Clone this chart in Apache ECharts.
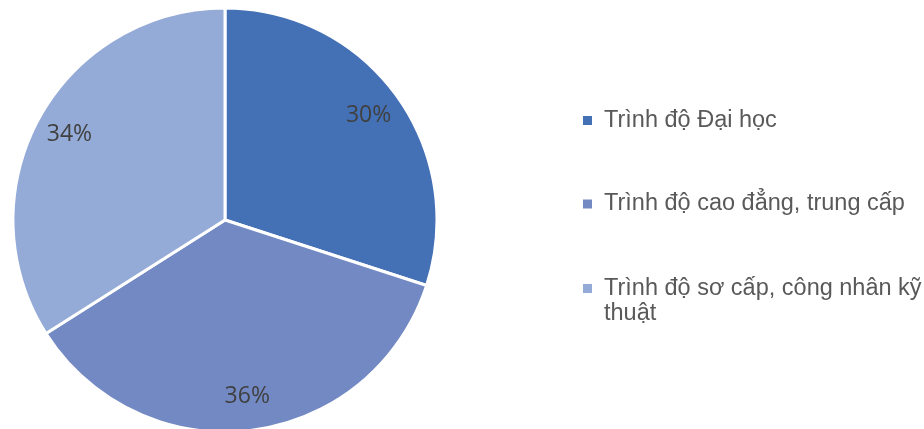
<!DOCTYPE html>
<html>
<head>
<meta charset="utf-8">
<script src="https://cdn.jsdelivr.net/npm/echarts@6/dist/echarts.min.js"></script>
<style>
html,body{margin:0;padding:0;background:#fff;}
#c{width:924px;height:429px;}
</style>
</head>
<body>
<div id="c"></div>
<script>
const categories = ['Trình độ Đại học', 'Trình độ cao đẳng, trung cấp', 'Trình độ sơ cấp, công nhân kỹ thuật'];
const values = [30, 36, 34];
const colors = ['#4470B6', '#7389C3', '#94AAD7'];
const legendLines = [['Trình độ Đại học'], ['Trình độ cao đẳng, trung cấp'], ['Trình độ sơ cấp, công nhân kỹ', 'thuật']];

const chart = echarts.init(document.getElementById('c'));
const data = categories.map((n, i) => ({ name: n, value: values[i], itemStyle: { color: colors[i] } }));
const legendText = {
  color: '#595959', fontSize: 23.5, fontFamily: 'Liberation Sans, Arial, sans-serif', lineHeight: 25,
  rich: { t: { color: '#595959', fontSize: 23.5, fontFamily: 'Liberation Sans, Arial, sans-serif', lineHeight: 25, padding: [0, 0, 0, 7] } }
};
const legendBase = { orient: 'vertical', left: 583, padding: 0, itemWidth: 9, itemHeight: 9, itemGap: 0, itemStyle: { borderWidth: 0 }, icon: 'rect', selectedMode: false, textStyle: legendText };
function fmt(i) {
  const lines = legendLines[i].map(s => '{t|' + s + '}');
  // leading blank line keeps the marker level with the first text line when wrapping
  return lines.length > 1 ? '{t|}\n' + lines.join('\n') : lines[0];
}

chart.setOption({
  animation: false,
  legend: [
    Object.assign({}, legendBase, { data: [categories[0]], top: 108, formatter: () => fmt(0) }),
    Object.assign({}, legendBase, { data: [categories[1]], top: 191.5, formatter: () => fmt(1) }),
    Object.assign({}, legendBase, { data: [categories[2]], top: 251, formatter: () => fmt(2) })
  ],
  series: [
    {
      type: 'pie',
      center: [225, 220],
      radius: [0, 212],
      startAngle: 90,
      clockwise: true,
      silent: true,
      itemStyle: { borderColor: '#fff', borderWidth: 3 },
      label: { show: false },
      labelLine: { show: false },
      data: data
    },
    {
      type: 'pie',
      center: [225, 220],
      radius: [137, 212],
      startAngle: 90,
      clockwise: true,
      silent: true,
      itemStyle: { color: 'transparent', borderWidth: 0 },
      label: { show: true, position: 'inside', formatter: '{c}%', color: '#404040', fontSize: 23, fontFamily: 'Open Sans, sans-serif' },
      labelLine: { show: false },
      data: categories.map((n, i) => ({ name: n, value: values[i], itemStyle: { color: 'transparent' } }))
    }
  ]
});
</script>
</body>
</html>
